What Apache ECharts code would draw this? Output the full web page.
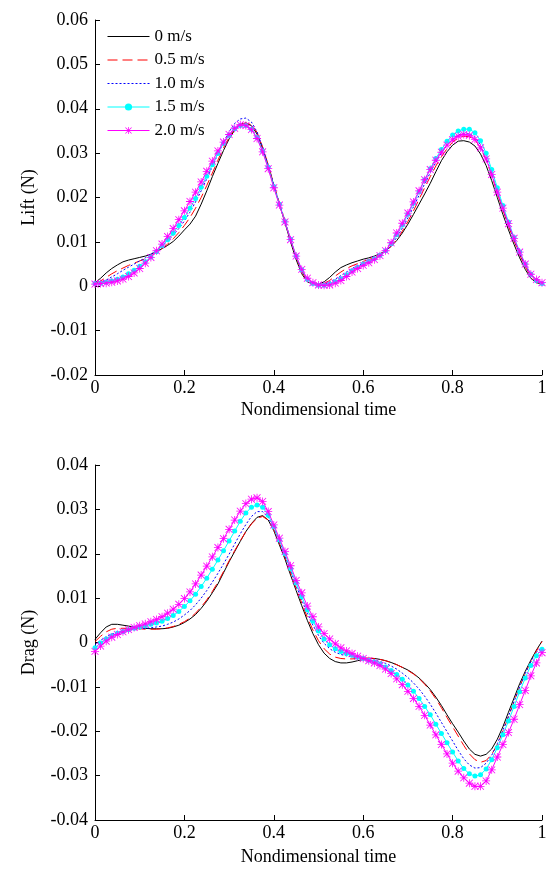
<!DOCTYPE html>
<html>
<head>
<meta charset="utf-8">
<script src="https://cdn.jsdelivr.net/npm/echarts@6/dist/echarts.min.js"></script>
<style>html,body{margin:0;padding:0;background:#fff}#c{width:550px;height:878px}</style>
</head>
<body>
<div id="c"></div>
<script>
const times = [0,0.0125,0.025,0.0375,0.05,0.0625,0.075,0.0875,0.1,0.1125,0.125,0.1375,0.15,0.1625,0.175,0.1875,0.2,0.2125,0.225,0.2375,0.25,0.2625,0.275,0.2875,0.3,0.3125,0.325,0.3375,0.35,0.3625,0.375,0.3875,0.4,0.4125,0.425,0.4375,0.45,0.4625,0.475,0.4875,0.5,0.5125,0.525,0.5375,0.55,0.5625,0.575,0.5875,0.6,0.6125,0.625,0.6375,0.65,0.6625,0.675,0.6875,0.7,0.7125,0.725,0.7375,0.75,0.7625,0.775,0.7875,0.8,0.8125,0.825,0.8375,0.85,0.8625,0.875,0.8875,0.9,0.9125,0.925,0.9375,0.95,0.9625,0.975,0.9875,1];

const seriesNames = ['0 m/s','0.5 m/s','1.0 m/s','1.5 m/s','2.0 m/s'];

const lift0 = [0.0008,0.0018,0.0030,0.0040,0.0048,0.0055,0.0059,0.0062,0.0065,0.0068,0.0072,0.0078,0.0085,0.0092,0.0101,0.0113,0.0127,0.0140,0.0158,0.0185,0.0215,0.0247,0.0277,0.0306,0.0332,0.0352,0.0364,0.0368,0.0362,0.0343,0.0310,0.0270,0.0227,0.0185,0.0143,0.0100,0.0060,0.0028,0.0010,0.0005,0.0005,0.0010,0.0020,0.0032,0.0042,0.0048,0.0053,0.0057,0.0061,0.0064,0.0068,0.0073,0.0080,0.0090,0.0103,0.0120,0.0140,0.0162,0.0185,0.0208,0.0232,0.0258,0.0283,0.0303,0.0318,0.0327,0.0328,0.0325,0.0316,0.0298,0.0272,0.0238,0.0200,0.0162,0.0127,0.0094,0.0064,0.0038,0.0018,0.0008,0.0005];
const lift05 = [0.0006,0.0012,0.0020,0.0028,0.0035,0.0041,0.0047,0.0052,0.0057,0.0062,0.0068,0.0076,0.0085,0.0095,0.0107,0.0121,0.0137,0.0155,0.0176,0.0200,0.0227,0.0255,0.0284,0.0312,0.0336,0.0354,0.0365,0.0368,0.0364,0.0347,0.0314,0.0274,0.0230,0.0188,0.0147,0.0105,0.0065,0.0033,0.0012,0.0004,0.0003,0.0006,0.0013,0.0023,0.0032,0.0040,0.0046,0.0051,0.0056,0.0060,0.0065,0.0071,0.0079,0.0090,0.0105,0.0124,0.0146,0.0170,0.0196,0.0222,0.0247,0.0271,0.0292,0.0310,0.0325,0.0334,0.0338,0.0337,0.0330,0.0312,0.0285,0.0250,0.0210,0.0172,0.0136,0.0102,0.0071,0.0044,0.0022,0.0010,0.0005];
const lift10 = [0.0006,0.0009,0.0014,0.0021,0.0028,0.0036,0.0043,0.0050,0.0057,0.0064,0.0072,0.0081,0.0091,0.0102,0.0115,0.0130,0.0147,0.0167,0.0190,0.0215,0.0242,0.0270,0.0298,0.0325,0.0348,0.0367,0.0377,0.0379,0.0370,0.0348,0.0313,0.0272,0.0228,0.0187,0.0147,0.0106,0.0067,0.0035,0.0014,0.0005,0.0002,0.0004,0.0009,0.0016,0.0024,0.0032,0.0040,0.0046,0.0052,0.0057,0.0062,0.0069,0.0078,0.0092,0.0110,0.0131,0.0154,0.0179,0.0205,0.0231,0.0256,0.0279,0.0300,0.0318,0.0332,0.0341,0.0345,0.0344,0.0336,0.0318,0.0290,0.0254,0.0214,0.0175,0.0139,0.0105,0.0074,0.0047,0.0025,0.0012,0.0005];
const lift15 = [0.0006,0.0007,0.0009,0.0012,0.0016,0.0021,0.0028,0.0036,0.0045,0.0055,0.0066,0.0078,0.0091,0.0105,0.0120,0.0137,0.0155,0.0176,0.0198,0.0223,0.0248,0.0274,0.0299,0.0322,0.0340,0.0355,0.0362,0.0362,0.0354,0.0335,0.0305,0.0268,0.0225,0.0185,0.0146,0.0106,0.0068,0.0037,0.0016,0.0006,0.0002,0.0002,0.0005,0.0010,0.0017,0.0026,0.0035,0.0043,0.0050,0.0056,0.0062,0.0070,0.0080,0.0096,0.0116,0.0138,0.0162,0.0187,0.0213,0.0240,0.0265,0.0288,0.0308,0.0327,0.0341,0.0350,0.0354,0.0354,0.0346,0.0328,0.0300,0.0263,0.0222,0.0182,0.0145,0.0110,0.0078,0.0050,0.0027,0.0013,0.0006];
const lift20 = [0.0005,0.0006,0.0007,0.0009,0.0012,0.0016,0.0022,0.0030,0.0040,0.0052,0.0065,0.0080,0.0095,0.0112,0.0130,0.0150,0.0170,0.0191,0.0212,0.0235,0.0259,0.0282,0.0305,0.0325,0.0342,0.0356,0.0364,0.0362,0.0353,0.0333,0.0303,0.0265,0.0222,0.0183,0.0145,0.0105,0.0068,0.0038,0.0018,0.0008,0.0003,0.0002,0.0003,0.0007,0.0013,0.0022,0.0032,0.0040,0.0047,0.0053,0.0060,0.0069,0.0080,0.0098,0.0120,0.0142,0.0165,0.0190,0.0215,0.0240,0.0263,0.0284,0.0302,0.0318,0.0330,0.0338,0.0342,0.0340,0.0331,0.0312,0.0287,0.0252,0.0212,0.0176,0.0141,0.0108,0.0077,0.0050,0.0027,0.0015,0.0008];

const drag0 = [0.0007,0.0022,0.0035,0.0041,0.0041,0.0039,0.0037,0.0035,0.0033,0.0032,0.0031,0.0031,0.0031,0.0032,0.0035,0.0039,0.0045,0.0053,0.0063,0.0077,0.0093,0.0112,0.0132,0.0157,0.0182,0.0205,0.0228,0.0250,0.0268,0.0282,0.0286,0.0276,0.0252,0.0220,0.0188,0.0152,0.0117,0.0083,0.0050,0.0020,-0.0005,-0.0024,-0.0036,-0.0043,-0.0046,-0.0046,-0.0044,-0.0041,-0.0038,-0.0036,-0.0036,-0.0038,-0.0041,-0.0045,-0.0050,-0.0056,-0.0062,-0.0070,-0.0080,-0.0092,-0.0106,-0.0123,-0.0142,-0.0163,-0.0183,-0.0202,-0.0222,-0.0240,-0.0252,-0.0256,-0.0252,-0.0240,-0.0218,-0.0190,-0.0157,-0.0125,-0.0093,-0.0065,-0.0040,-0.0017,0.0003];
const drag05 = [0.0002,0.0014,0.0024,0.0030,0.0032,0.0032,0.0032,0.0031,0.0031,0.0030,0.0030,0.0030,0.0031,0.0033,0.0036,0.0041,0.0047,0.0055,0.0066,0.0080,0.0096,0.0115,0.0136,0.0160,0.0184,0.0207,0.0229,0.0250,0.0267,0.0280,0.0284,0.0276,0.0254,0.0224,0.0192,0.0157,0.0122,0.0089,0.0057,0.0028,0.0004,-0.0014,-0.0026,-0.0033,-0.0036,-0.0037,-0.0037,-0.0036,-0.0035,-0.0035,-0.0036,-0.0038,-0.0041,-0.0045,-0.0050,-0.0056,-0.0063,-0.0071,-0.0081,-0.0094,-0.0109,-0.0127,-0.0147,-0.0169,-0.0190,-0.0211,-0.0232,-0.0251,-0.0264,-0.0270,-0.0266,-0.0252,-0.0230,-0.0200,-0.0167,-0.0133,-0.0100,-0.0070,-0.0043,-0.0019,0.0002];
const drag10 = [-0.0005,0.0005,0.0013,0.0019,0.0023,0.0026,0.0028,0.0030,0.0031,0.0032,0.0033,0.0035,0.0037,0.0041,0.0046,0.0053,0.0062,0.0072,0.0085,0.0100,0.0117,0.0136,0.0156,0.0177,0.0199,0.0222,0.0245,0.0266,0.0284,0.0295,0.0295,0.0282,0.0258,0.0228,0.0196,0.0162,0.0128,0.0096,0.0066,0.0039,0.0016,-0.0002,-0.0014,-0.0022,-0.0027,-0.0030,-0.0032,-0.0034,-0.0036,-0.0038,-0.0040,-0.0043,-0.0047,-0.0053,-0.0060,-0.0069,-0.0079,-0.0091,-0.0105,-0.0121,-0.0139,-0.0159,-0.0180,-0.0201,-0.0222,-0.0243,-0.0262,-0.0276,-0.0283,-0.0282,-0.0272,-0.0254,-0.0228,-0.0198,-0.0166,-0.0133,-0.0100,-0.0070,-0.0043,-0.0022,-0.0010];
const drag15 = [-0.0012,-0.0001,0.0008,0.0015,0.0021,0.0025,0.0029,0.0032,0.0035,0.0038,0.0041,0.0044,0.0048,0.0054,0.0061,0.0070,0.0081,0.0094,0.0109,0.0126,0.0145,0.0165,0.0186,0.0207,0.0229,0.0251,0.0273,0.0292,0.0305,0.0310,0.0305,0.0287,0.0261,0.0231,0.0200,0.0167,0.0134,0.0103,0.0074,0.0048,0.0026,0.0008,-0.0005,-0.0014,-0.0020,-0.0025,-0.0029,-0.0033,-0.0036,-0.0040,-0.0044,-0.0049,-0.0055,-0.0063,-0.0072,-0.0083,-0.0096,-0.0110,-0.0126,-0.0144,-0.0163,-0.0184,-0.0205,-0.0226,-0.0247,-0.0267,-0.0284,-0.0296,-0.0301,-0.0298,-0.0285,-0.0264,-0.0237,-0.0208,-0.0177,-0.0144,-0.0111,-0.0080,-0.0052,-0.0030,-0.0015];
const drag20 = [-0.0020,-0.0008,0.0003,0.0012,0.0018,0.0024,0.0029,0.0034,0.0038,0.0042,0.0047,0.0052,0.0058,0.0066,0.0075,0.0086,0.0099,0.0114,0.0132,0.0152,0.0172,0.0193,0.0214,0.0234,0.0255,0.0276,0.0296,0.0313,0.0323,0.0326,0.0318,0.0295,0.0265,0.0235,0.0205,0.0173,0.0140,0.0112,0.0082,0.0058,0.0035,0.0020,0.0008,-0.0003,-0.0012,-0.0019,-0.0025,-0.0031,-0.0036,-0.0041,-0.0046,-0.0052,-0.0060,-0.0070,-0.0082,-0.0095,-0.0110,-0.0126,-0.0144,-0.0164,-0.0186,-0.0208,-0.0230,-0.0251,-0.0272,-0.0290,-0.0305,-0.0317,-0.0324,-0.0324,-0.0312,-0.0287,-0.0258,-0.0230,-0.0203,-0.0173,-0.0140,-0.0108,-0.0075,-0.0046,-0.0023];

const FONT = "'Liberation Serif','Times New Roman',serif";
const asterisk = 'path://M4.5,0h1v10h-1z M0,4.5h10v1h-10z M0.35,1.06L1.06,0.35L9.65,8.94L8.94,9.65z M8.94,0.35L9.65,1.06L1.06,9.65L0.35,8.94z';

const styles = [
  {color:'#000000', type:'solid', symbol:'none', size:0},
  {color:'#ff0000', type:[10,5], symbol:'none', size:0},
  {color:'#0000ff', type:[2,2], symbol:'none', size:0},
  {color:'#00ffff', type:'solid', symbol:'circle', size:5},
  {color:'#ff00ff', type:'solid', symbol:asterisk, size:8}
];

function pairs(arr){ return times.map((t,i)=>[t,arr[i]]); }

function mkSeries(arrs, idx){
  return arrs.map((arr,k)=>({
    name: seriesNames[k],
    type:'line',
    xAxisIndex: idx, yAxisIndex: idx,
    data: pairs(arr),
    symbol: styles[k].symbol,
    symbolSize: styles[k].size,
    showSymbol: styles[k].symbol !== 'none',
    showAllSymbol: true,
    smooth: false,
    lineStyle: {color: styles[k].color, width: 1, type: styles[k].type},
    itemStyle: {color: styles[k].color},
    z: 2 + k,
    animation: false
  }));
}

function fmt(v){ return String(Number(v.toFixed(3))); }

function xAx(gi){
  return {
    type:'value', gridIndex: gi, min:0, max:1, interval:0.2,
    name:'Nondimensional time', nameLocation:'middle', nameGap: gi===0?26:28,
    nameTextStyle:{fontFamily:FONT, fontSize:18, color:'#000'},
    axisLine:{show:true, onZero:false, lineStyle:{color:'#000', width:1}},
    axisTick:{show:true, inside:true, length:5, lineStyle:{color:'#000'}},
    axisLabel:{fontFamily:FONT, fontSize:18, color:'#000', margin:4, formatter: fmt},
    splitLine:{show:false}
  };
}
function yAx(gi, mn, mx, name){
  return {
    type:'value', gridIndex: gi, min:mn, max:mx, interval:0.01,
    name:name, nameLocation:'middle', nameGap:57,
    nameTextStyle:{fontFamily:FONT, fontSize:18, color:'#000'},
    axisLine:{show:true, onZero:false, lineStyle:{color:'#000', width:1}},
    axisTick:{show:true, inside:true, length:5, lineStyle:{color:'#000'}},
    axisLabel:{fontFamily:FONT, fontSize:18, color:'#000', margin:7, formatter: fmt},
    splitLine:{show:false}
  };
}

const legendData = seriesNames.map((n,k)=> {
  const item = {name:n, lineStyle:{width:1, color:styles[k].color, type:styles[k].type}};
  if (k < 3) item.itemStyle = {opacity:0};
  return item;
});

const chart = echarts.init(document.getElementById('c'), null, {renderer:'canvas'});
chart.setOption({
  animation:false,
  backgroundColor:'#fff',
  grid:[
    {left:95, top:20, width:447, height:355, containLabel:false},
    {left:95, top:465, width:447, height:355, containLabel:false}
  ],
  xAxis:[xAx(0), xAx(1)],
  yAxis:[yAx(0,-0.02,0.06,'Lift (N)'), yAx(1,-0.04,0.04,'Drag (N)')],
  legend:{
    data: legendData,
    orient:'vertical', left:107, top:28, padding:0,
    itemWidth:42, itemHeight:9, itemGap:6.5,
    textStyle:{fontFamily:FONT, fontSize:17, color:'#000'},
    backgroundColor:'transparent', borderWidth:0
  },
  series: mkSeries([lift0,lift05,lift10,lift15,lift20],0).concat(
          mkSeries([drag0,drag05,drag10,drag15,drag20],1))
});
</script>
</body>
</html>
